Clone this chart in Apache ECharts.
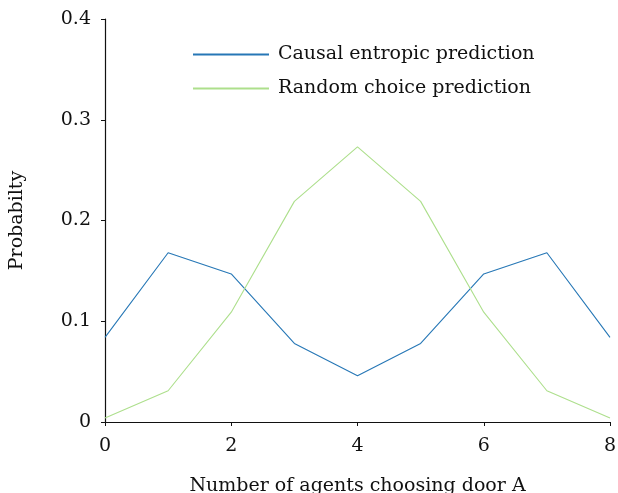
<!DOCTYPE html>
<html><head><meta charset="utf-8">
<script src="https://cdn.jsdelivr.net/npm/echarts@6/dist/echarts.min.js"></script>
<style>html,body{margin:0;padding:0;background:#fff}#c{width:618px;height:493px}</style>
</head><body><div id="c"></div>
<script>
const agents = [0, 1, 2, 3, 4, 5, 6, 7, 8];
const causalEntropic = [0.084, 0.168, 0.147, 0.078, 0.046, 0.078, 0.147, 0.168, 0.084];
const randomChoice = [0.004, 0.031, 0.109, 0.219, 0.273, 0.219, 0.109, 0.031, 0.004];
const seriesNames = ['Causal entropic prediction', 'Random choice prediction'];
const xTicks = [0, 2, 4, 6, 8];
const yTicks = [0, 0.1, 0.2, 0.3, 0.4];

const font = 'DejaVu Serif';
const fs = 19;
const chart = echarts.init(document.getElementById('c'), null, {renderer: 'canvas'});
chart.setOption({
  animation: false,
  textStyle: {fontFamily: font},
  grid: {left: 105, right: 8, top: 19, bottom: 71, containLabel: false, outerBoundsMode: 'none'},
  legend: {
    orient: 'vertical', left: 187, top: 40, itemWidth: 76, itemHeight: 14, itemGap: 15,
    itemStyle: {opacity: 0},
    textStyle: {fontFamily: font, fontSize: fs, color: '#111', padding: [0, 0, 0, 4]},
    data: seriesNames
  },
  xAxis: {
    type: 'value', min: xTicks[0], max: xTicks[xTicks.length-1], interval: 2,
    name: 'Number of agents choosing door A', nameLocation: 'middle', nameGap: 55,
    nameTextStyle: {fontFamily: font, fontSize: fs, color: '#111'},
    axisLine: {show: true, lineStyle: {color: '#111', width: 1.2}},
    axisTick: {show: true, inside: false, length: 4, lineStyle: {color: '#111'}},
    axisLabel: {fontFamily: font, fontSize: fs, color: '#111', margin: 15},
    splitLine: {show: false}
  },
  yAxis: {
    type: 'value', min: yTicks[0], max: yTicks[yTicks.length-1], interval: 0.1,
    name: 'Probabilty', nameLocation: 'middle', nameGap: 78, nameRotate: 90,
    nameTextStyle: {fontFamily: font, fontSize: fs, color: '#111'},
    axisLine: {show: true, lineStyle: {color: '#111', width: 1.2}},
    axisTick: {show: true, inside: false, length: 4, lineStyle: {color: '#111'}},
    axisLabel: {fontFamily: font, fontSize: fs, color: '#111', margin: 14,
      formatter: v => v === 0 ? '0' : v.toFixed(1)},
    splitLine: {show: false}
  },
  series: [
    {name: seriesNames[0], type: 'line', symbol: 'none',
     lineStyle: {color: '#2677b6', width: 1.1}, itemStyle: {color: '#2677b6'},
     data: agents.map((a, i) => [a, causalEntropic[i]])},
    {name: seriesNames[1], type: 'line', symbol: 'none',
     lineStyle: {color: '#addf8c', width: 1.1}, itemStyle: {color: '#addf8c'},
     data: agents.map((a, i) => [a, randomChoice[i]])}
  ]
});
</script></body></html>
